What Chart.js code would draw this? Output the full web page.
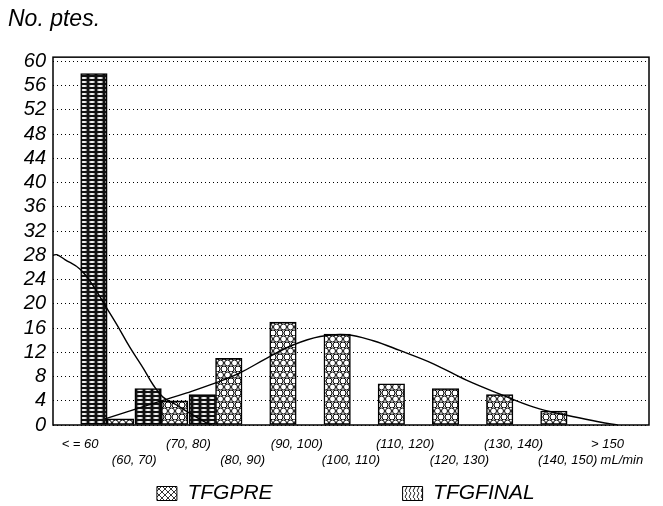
<!DOCTYPE html>
<html>
<head>
<meta charset="utf-8">
<script src="https://cdn.jsdelivr.net/npm/chart.js@4/dist/chart.umd.min.js"></script>
<style>
  body { margin: 0; background: #fff; }
</style>
</head>
<body>
<canvas id="tfgChart" width="663" height="506"></canvas>
<script>
// classes de TFG (tick labels)
var categories = ['< = 60', '(60, 70)', '(70, 80)', '(80, 90)', '(90, 100)', '(100, 110)',
                  '(110, 120)', '(120, 130)', '(130, 140)', '(140, 150)', '> 150'];
var unitLabel = 'mL/min';
var yTicks = [0, 4, 8, 12, 16, 20, 24, 28, 32, 36, 40, 44, 48, 52, 56, 60];

// No. de pacientes
var tfgPre = [58, 6, 5, 0, 0, 0, 0, 0, 0, 0];
var tfgFinal = [1, 4, 11, 17, 15, 6.8, 6, 5, 2.3, 0];

// curvas ajustadas (x en anchos de clase desde el borde izquierdo)
var preCurveX = [0, 0.07, 0.22, 0.5, 0.74, 0.93, 1.17, 1.42, 1.67, 1.85, 2.03, 2.28, 2.53, 2.84, 2.93];
var preCurveY = [28, 28.1, 27.3, 25.7, 23, 20.2, 16.7, 12.8, 9.3, 6.6, 4.6, 3.3, 1.9, 0.3, 0];
var finalCurveX = [0.96, 1.48, 1.97, 2.47, 2.99, 3.45, 3.94, 4.43, 4.93, 5.42, 5.91, 6.40, 7.02, 7.63, 8.25, 8.86, 9.48, 10.09, 10.42];
var finalCurveY = [1.0, 2.5, 3.9, 5.3, 6.9, 8.6, 11.0, 13.2, 14.6, 14.9, 13.9, 12.3, 10.1, 7.4, 5.1, 3.0, 1.6, 0.5, 0];

var FONT = "'Liberation Sans', Arial, sans-serif";
var ctx = document.getElementById('tfgChart').getContext('2d');

function tile(w, h, draw) {
    var c = document.createElement('canvas');
    c.width = w;
    c.height = h;
    var g = c.getContext('2d');
    g.fillStyle = '#fff';
    g.fillRect(0, 0, w, h);
    draw(g);
    return ctx.createPattern(c, 'repeat');
}

// relleno de las barras
var brick = tile(8, 4, function (g) {
    g.fillStyle = '#111';
    g.fillRect(0, 0, 8, 4);
    g.fillStyle = '#fff';
    g.beginPath();
    g.ellipse(4, 2, 3, 1, 0, 0, 2 * Math.PI);
    g.fill();
});
var hexes = tile(7, 12, function (g) {
    g.strokeStyle = '#000';
    g.lineWidth = 1;
    [[3.5, 3], [3.5, 15], [3.5, -9], [0, 9], [7, 9]].forEach(function (p) {
        g.beginPath();
        g.arc(p[0], p[1], 3, 0, 2 * Math.PI);
        g.stroke();
    });
});
// relleno de la leyenda
var hatch = tile(6, 6, function (g) {
    g.strokeStyle = '#000';
    g.lineWidth = 0.8;
    g.beginPath();
    g.moveTo(0, 0); g.lineTo(6, 6);
    g.moveTo(6, 0); g.lineTo(0, 6);
    g.stroke();
});
var waves = tile(4, 6, function (g) {
    g.strokeStyle = '#000';
    g.lineWidth = 1;
    g.beginPath();
    g.moveTo(2, 0);
    g.bezierCurveTo(4.5, 1.5, -0.5, 4.5, 2, 6);
    g.stroke();
});

function points(xs, ys) {
    return xs.map(function (x, i) { return { x: x, y: ys[i] }; });
}

var barSlots = [''].concat(tfgPre.map(function (v, i) { return String(i + 1); }), ['']);

var frame = {
    id: 'frame',
    afterDraw: function (chart) {
        var a = chart.chartArea;
        var c = chart.ctx;
        c.save();
        c.strokeStyle = '#000';
        c.lineWidth = 1.5;
        c.strokeRect(a.left, a.top, a.right - a.left, a.bottom - a.top);
        c.restore();
    }
};

var chart = new Chart(ctx, {
    type: 'bar',
    data: {
        labels: barSlots,
        datasets: [{
            type: 'line',
            label: 'ajuste TFGPRE',
            data: points(preCurveX, preCurveY),
            xAxisID: 'xc',
            borderColor: '#000',
            borderWidth: 1.4,
            pointRadius: 0,
            tension: 0.4,
            fill: false,
            order: 0
        }, {
            type: 'line',
            label: 'ajuste TFGFINAL',
            data: points(finalCurveX, finalCurveY),
            xAxisID: 'xc',
            borderColor: '#000',
            borderWidth: 1.4,
            pointRadius: 0,
            tension: 0.4,
            fill: false,
            order: 0
        }, {
            label: 'TFGPRE',
            data: [null].concat(tfgPre, [null]),
            xAxisID: 'x',
            backgroundColor: brick,
            borderColor: '#000',
            borderWidth: 1.5,
            borderSkipped: false,
            barThickness: 26.5,
            order: 1
        }, {
            label: 'TFGFINAL',
            data: [null].concat(tfgFinal, [null]),
            xAxisID: 'x',
            backgroundColor: hexes,
            borderColor: '#000',
            borderWidth: 1.5,
            borderSkipped: false,
            barThickness: 26.5,
            order: 1
        }]
    },
    options: {
        responsive: false,
        animation: false,
        devicePixelRatio: 1,
        events: [],
        layout: { padding: { left: 8, right: 14, top: 8, bottom: 0 } },
        scales: {
            x: { type: 'category', offset: false, display: false },
            xc: { type: 'linear', min: 0, max: 11, offset: false, display: false },
            xl: {
                type: 'category',
                labels: categories,
                offset: true,
                position: 'bottom',
                grid: { display: false },
                border: { display: false },
                ticks: {
                    autoSkip: false,
                    maxRotation: 0,
                    padding: 3,
                    color: '#000',
                    font: { family: FONT, size: 13, style: 'italic', lineHeight: 1.25 },
                    callback: function (v, i) {
                        var label = categories[i];
                        if (i === categories.length - 1) return [label + '        ', unitLabel];
                        return i % 2 ? ['', label] : label;
                    }
                },
                afterFit: function (s) { s.height = 54; }
            },
            y: {
                min: 0,
                max: 60.7,
                afterBuildTicks: function (axis) {
                    axis.ticks = yTicks.map(function (v) { return { value: v }; });
                },
                grid: { color: '#000', lineWidth: 1, drawTicks: false },
                border: { display: false, dash: [1, 3] },
                ticks: {
                    autoSkip: false,
                    padding: 7,
                    color: '#000',
                    font: { family: FONT, size: 20, style: 'italic' }
                },
                afterFit: function (s) { s.width = 45; }
            }
        },
        plugins: {
            tooltip: { enabled: false },
            title: {
                display: true,
                text: 'No. ptes.',
                align: 'start',
                color: '#000',
                font: { family: FONT, size: 23, style: 'italic', weight: 'normal', lineHeight: 1.05 },
                padding: { top: 0, bottom: 25 }
            },
            legend: {
                position: 'bottom',
                maxHeight: 27,
                labels: {
                    boxWidth: 20,
                    boxHeight: 14,
                    padding: 4,
                    color: '#000',
                    font: { family: FONT, size: 21, style: 'italic' },
                    generateLabels: function () {
                        return [
                            { text: '', fillStyle: 'rgba(0,0,0,0)', strokeStyle: 'rgba(0,0,0,0)', lineWidth: 0 },
                            { text: 'TFGPRE' + '\u2003\u2003\u2003\u2003\u2003\u2003', fillStyle: hatch, strokeStyle: '#000', lineWidth: 1, datasetIndex: 2 },
                            { text: 'TFGFINAL', fillStyle: waves, strokeStyle: '#000', lineWidth: 1, datasetIndex: 3 }
                        ];
                    }
                }
            }
        }
    },
    plugins: [frame]
});
</script>
</body>
</html>
